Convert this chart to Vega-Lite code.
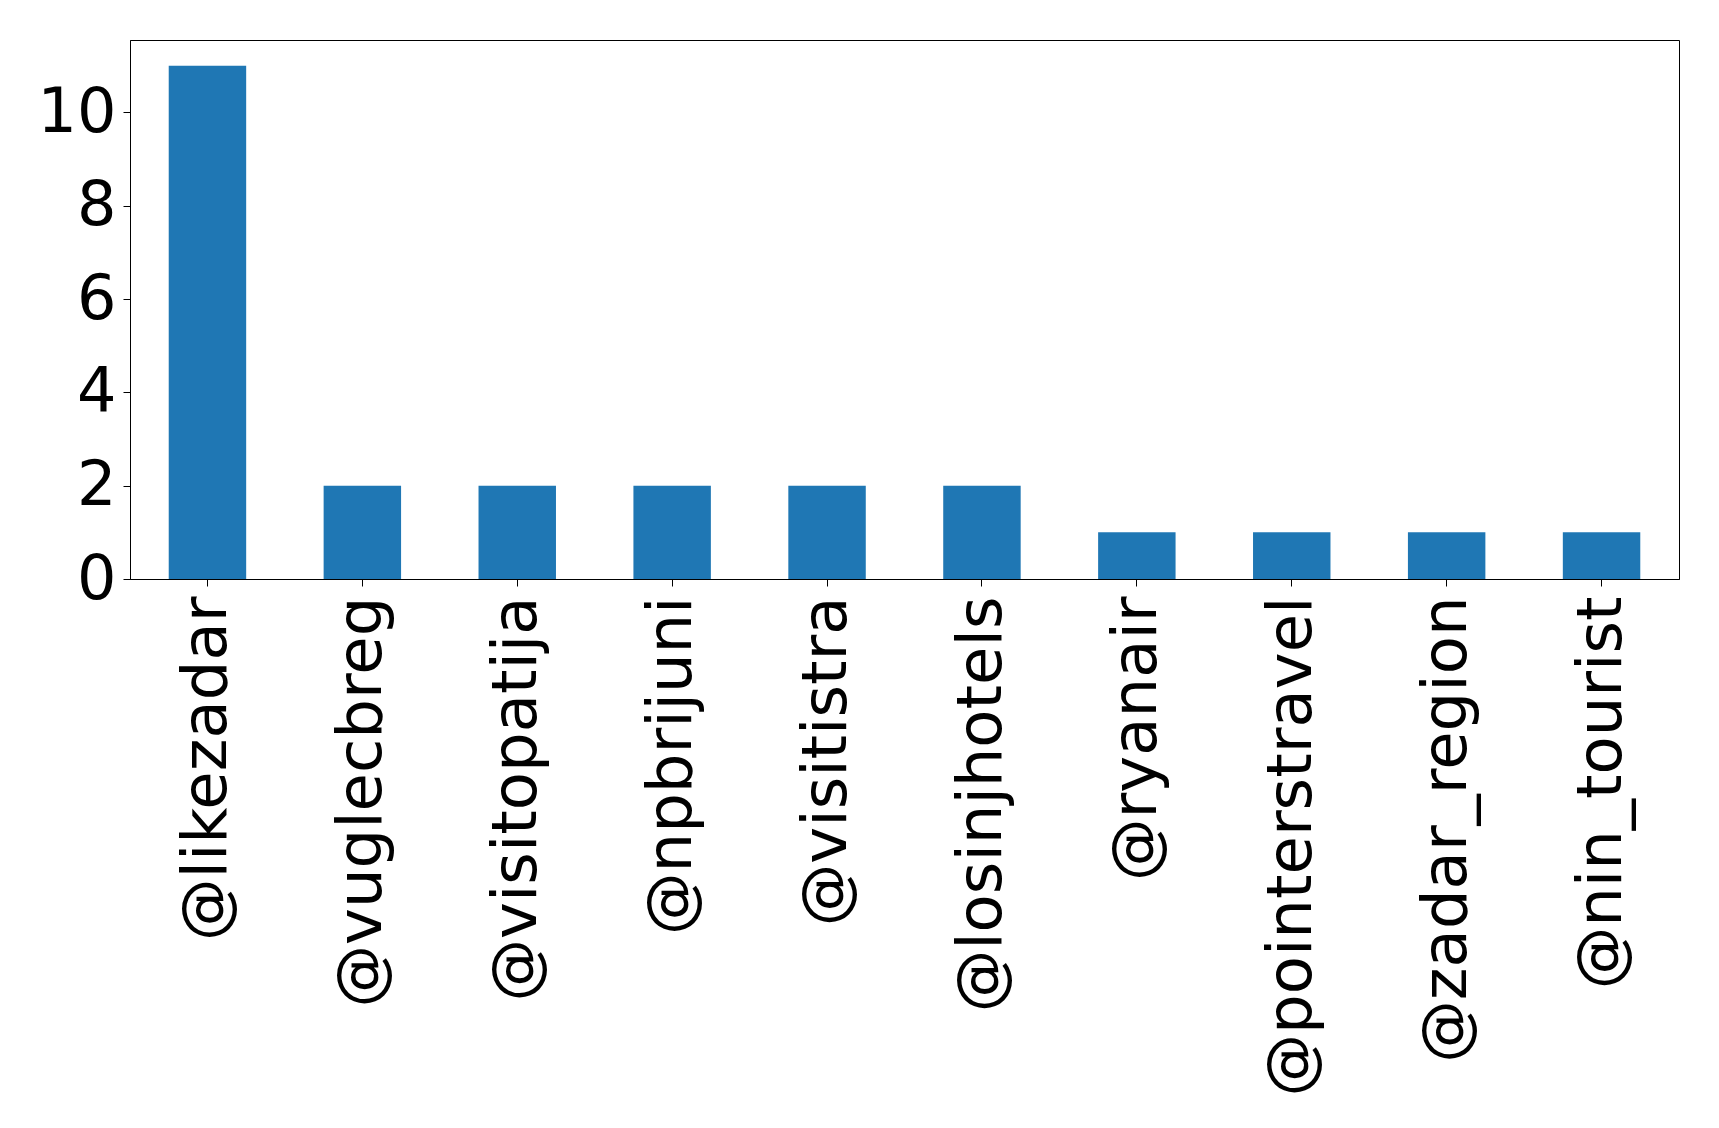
{
  "$schema": "https://vega.github.io/schema/vega-lite/v6.json",
  "width": 1549,
  "height": 539,
  "autosize": {"type": "none"},
  "padding": {"left": 130, "top": 40, "right": 40, "bottom": 549},
  "background": "white",
  "data": {
    "values": [
      {"account": "@likezadar", "count": 11},
      {"account": "@vuglecbreg", "count": 2},
      {"account": "@visitopatija", "count": 2},
      {"account": "@npbrijuni", "count": 2},
      {"account": "@visitistra", "count": 2},
      {"account": "@losinjhotels", "count": 2},
      {"account": "@ryanair", "count": 1},
      {"account": "@pointerstravel", "count": 1},
      {"account": "@zadar_region", "count": 1},
      {"account": "@nin_tourist", "count": 1}
    ]
  },
  "mark": {"type": "bar", "color": "#1f77b4"},
  "encoding": {
    "x": {
      "field": "account",
      "type": "nominal",
      "sort": null,
      "title": null,
      "scale": {"paddingInner": 0.5, "paddingOuter": 0.25},
      "axis": {
        "labelAngle": 270,
        "labelAlign": "right",
        "labelBaseline": "middle",
        "labelFont": "DejaVu Sans",
        "labelFontSize": 62.5,
        "labelColor": "black",
        "labelPadding": 10,
        "labelLimit": 0,
        "labelOverlap": false,
        "tickColor": "black",
        "tickSize": 7,
        "domainColor": "black",
        "grid": false
      }
    },
    "y": {
      "field": "count",
      "type": "quantitative",
      "title": null,
      "scale": {"domain": [0, 11.55], "nice": false, "zero": true},
      "axis": {
        "values": [0, 2, 4, 6, 8, 10],
        "labelFont": "DejaVu Sans",
        "labelFontSize": 62,
        "labelColor": "black",
        "labelPadding": 7,
        "tickColor": "black",
        "tickSize": 7,
        "domainColor": "black",
        "grid": false
      }
    }
  },
  "config": {
    "view": {"stroke": "black", "strokeWidth": 1}
  }
}
